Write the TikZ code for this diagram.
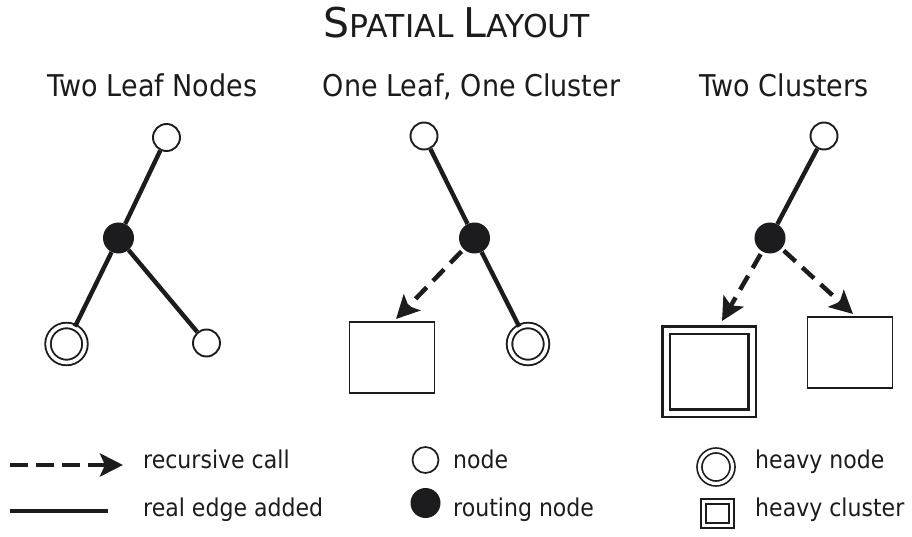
\documentclass[tikz,border=0pt]{standalone}
\usepackage{fontspec}
\setmainfont[FakeStretch=0.9]{DejaVu Sans}
\newfontfamily\titlefont{DejaVu Sans}
\usetikzlibrary{arrows.meta}
\definecolor{ink}{HTML}{1C1C1E}
\tikzset{
  plain/.style={circle, draw=ink, fill=white, line width=1.9pt, minimum size=27pt, inner sep=0pt},
  routing/.style={circle, fill=ink, minimum size=31pt, inner sep=0pt},
  heavy/.style={circle, draw=ink, double=white, double distance=3.6pt, line width=1.9pt, minimum size=37pt, inner sep=0pt},
  box/.style={rectangle, draw=ink, fill=white, line width=1.9pt, minimum width=85pt, minimum height=71pt, inner sep=0pt},
  heavybox/.style={rectangle, draw=ink, double=white, double distance=5pt, line width=2.1pt, minimum width=86pt, minimum height=83pt, inner sep=0pt},
  realedge/.style={draw=ink, line width=4.4pt},
  reccall/.style={draw=ink, line width=4.5pt, dash pattern=on 16pt off 9pt, shorten <=3pt,
     -{Stealth[length=23pt,width=23pt,inset=5pt]}},
  heading/.style={anchor=base, font=\fontsize{30}{30}\selectfont, text=ink},
  legtext/.style={anchor=base west, font=\fontsize{24.5}{24.5}\selectfont, text=ink, inner sep=0pt},
}
\begin{document}
\begin{tikzpicture}[x=1pt, y=-1pt]
\fill[white] (0,0) rectangle (912,537);
\path[use as bounding box] (0,0) rectangle (912,537);

% title
\node[anchor=base, text=ink, inner sep=0pt] (title) at (457,38)
  {\titlefont\fontsize{41}{41}\selectfont S\fontsize{31.5}{31.5}\selectfont PATIAL\ \fontsize{41}{41}\selectfont L\fontsize{31.5}{31.5}\selectfont AYOUT};

% panel headings
\node[heading] (h1) at (152.5,97) {Two Leaf Nodes};
\node[heading] (h2) at (471.5,97) {One Leaf, One Cluster};
\node[heading] (h3) at (784,97) {Two Clusters};

% panel 1
\node[plain] (a1) at (166.5,137.5) {};
\node[routing] (a2) at (118.5,238) {};
\node[heavy] (a3) at (66.5,344) {};
\node[plain] (a4) at (206.5,343) {};
\draw[realedge] (a1) -- (a2);
\draw[realedge] (a2) -- (a3);
\draw[realedge] (a2) -- (a4);

% panel 2
\node[plain] (b1) at (424,136) {};
\node[routing] (b2) at (474.5,238) {};
\node[box] (b3) at (392,357.5) {};
\node[heavy] (b4) at (528,344) {};
\coordinate (b3t) at (396,319);
\draw[realedge] (b1) -- (b2);
\draw[realedge] (b2) -- (b4);
\draw[reccall] (b2) -- (b3t);

% panel 3
\node[plain] (c1) at (824,136) {};
\node[routing] (c2) at (770,238) {};
\node[heavybox] (c3) at (709,371.5) {};
\node[box] (c4) at (850,352.5) {};
\coordinate (c3t) at (722,321);
\coordinate (c4t) at (853,314);
\draw[realedge] (c1) -- (c2);
\draw[reccall] (c2) -- (c3t);
\draw[reccall] (c2) -- (c4t);

% legend
\coordinate (l1a) at (10,465);
\coordinate (l1b) at (123,465);
\coordinate (l2a) at (10,511);
\coordinate (l2b) at (108,511);
\draw[reccall, shorten <=0pt, dash pattern=on 18pt off 8pt] (l1a) -- (l1b);
\draw[realedge] (l2a) -- (l2b);
\node[legtext] (t1) at (143,468) {recursive call};
\node[legtext] (t2) at (143,516) {real edge added};

\node[plain, minimum size=26pt, line width=1.7pt] (ln) at (425.5,460) {};
\node[routing, minimum size=30pt] (lr) at (425.5,503) {};
\node[legtext] (t3) at (453,468) {node};
\node[legtext] (t4) at (453,516) {routing node};

\node[heavy, minimum size=33pt, line width=1.7pt, double distance=3.2pt] (lh) at (716,467) {};
\node[heavybox, minimum width=28pt, minimum height=24pt, line width=1.9pt, double distance=3pt] (lc) at (717.5,513.5) {};
\node[legtext] (t5) at (755,468) {heavy node};
\node[legtext] (t6) at (755,516) {heavy cluster};
\end{tikzpicture}
\end{document}
